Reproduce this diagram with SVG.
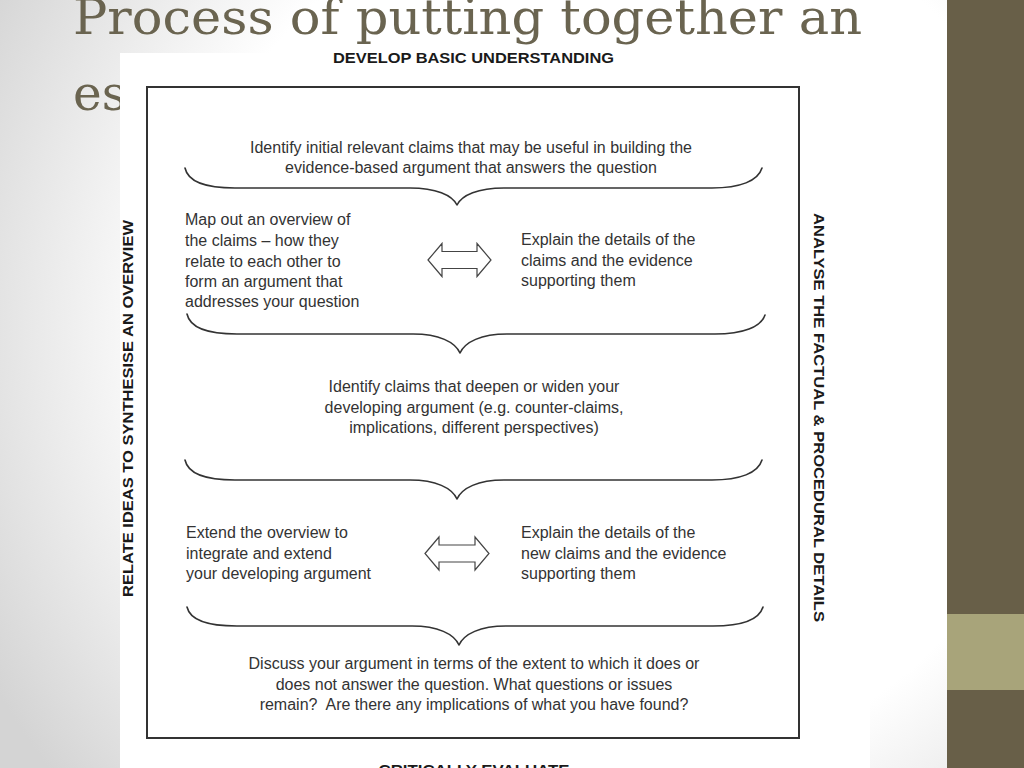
<svg xmlns="http://www.w3.org/2000/svg" width="1024" height="768" viewBox="0 0 1024 768">
  <defs>
    <radialGradient id="bg" cx="620" cy="330" r="720" gradientUnits="userSpaceOnUse">
      <stop offset="0" stop-color="#ffffff"/>
      <stop offset="0.62" stop-color="#ffffff"/>
      <stop offset="1" stop-color="#d4d4d4"/>
    </radialGradient>
    <style>
      .title { font-family: "DejaVu Serif", "Liberation Serif", serif; font-size: 49px; fill: #6a6450; }
      .body { font-family: "Liberation Sans", Arial, sans-serif; font-size: 16px; fill: #333333; }
      .head { font-family: "Liberation Sans", Arial, sans-serif; font-size: 15.5px; font-weight: bold; fill: #1a1a1a; }
      .brace { fill: none; stroke: #333333; stroke-width: 1.6; stroke-linecap: round; stroke-linejoin: round; }
      .darrow { fill: #ffffff; stroke: #444444; stroke-width: 1.2; stroke-linejoin: miter; }
    </style>
  </defs>

  <!-- slide background -->
  <rect x="0" y="0" width="1024" height="768" fill="url(#bg)"/>
  <rect x="947" y="0" width="77" height="768" fill="#685f48"/>
  <rect x="947" y="614" width="77" height="76" fill="#a8a47a"/>

  <!-- title -->
  <g id="title">
    <text class="title" x="73" y="34" textLength="789" lengthAdjust="spacingAndGlyphs">Process of putting together an</text>
    <text class="title" x="73" y="110" textLength="135" lengthAdjust="spacingAndGlyphs">essay</text>
  </g>

  <!-- diagram image area -->
  <rect x="120" y="53" width="750" height="715" fill="#ffffff"/>

  <g id="frame">
    <rect x="147" y="87" width="652" height="651" fill="#ffffff" stroke="#333333" stroke-width="2"/>
  </g>

  <g id="label-top">
    <text class="head" x="473.5" y="63" text-anchor="middle" textLength="281" lengthAdjust="spacingAndGlyphs">DEVELOP BASIC UNDERSTANDING</text>
  </g>
  <g id="label-left">
    <text class="head" transform="translate(133,408.5) rotate(-90)" x="0" y="0" text-anchor="middle" font-size="16" textLength="377" lengthAdjust="spacingAndGlyphs">RELATE IDEAS TO SYNTHESISE AN OVERVIEW</text>
  </g>
  <g id="label-right">
    <text class="head" transform="translate(813.5,417.5) rotate(90)" x="0" y="0" text-anchor="middle" font-size="16" textLength="409" lengthAdjust="spacingAndGlyphs">ANALYSE THE FACTUAL &amp; PROCEDURAL DETAILS</text>
  </g>
  <g id="label-bottom">
    <text class="head" x="474" y="775" text-anchor="middle" textLength="191" lengthAdjust="spacingAndGlyphs">CRITICALLY EVALUATE</text>
  </g>

  <g id="step1">
    <text class="body" x="471" y="153" text-anchor="middle">Identify initial relevant claims that may be useful in building the</text>
    <text class="body" x="471" y="173" text-anchor="middle">evidence-based argument that answers the question</text>
  </g>

  <g id="step2-overview">
    <text class="body" x="185" y="225">Map out an overview of</text>
    <text class="body" x="185" y="246">the claims – how they</text>
    <text class="body" x="185" y="266.5">relate to each other to</text>
    <text class="body" x="185" y="287">form an argument that</text>
    <text class="body" x="185" y="307">addresses your question</text>
  </g>

  <g id="step2-details">
    <text class="body" x="521" y="245">Explain the details of the</text>
    <text class="body" x="521" y="265.5">claims and the evidence</text>
    <text class="body" x="521" y="286">supporting them</text>
  </g>

  <g id="step3">
    <text class="body" x="474" y="392" text-anchor="middle">Identify claims that deepen or widen your</text>
    <text class="body" x="474" y="412.5" text-anchor="middle">developing argument (e.g. counter-claims,</text>
    <text class="body" x="474" y="433" text-anchor="middle">implications, different perspectives)</text>
  </g>

  <g id="step4-overview">
    <text class="body" x="186" y="538">Extend the overview to</text>
    <text class="body" x="186" y="558.5">integrate and extend</text>
    <text class="body" x="186" y="579">your developing argument</text>
  </g>

  <g id="step4-details">
    <text class="body" x="521" y="538">Explain the details of the</text>
    <text class="body" x="521" y="558.5">new claims and the evidence</text>
    <text class="body" x="521" y="579">supporting them</text>
  </g>

  <g id="step5">
    <text class="body" x="474" y="669" text-anchor="middle">Discuss your argument in terms of the extent to which it does or</text>
    <text class="body" x="474" y="689.5" text-anchor="middle">does not answer the question. What questions or issues</text>
    <text class="body" x="474" y="710" text-anchor="middle">remain?&#160; Are there any implications of what you have found?</text>
  </g>

  <g id="connectors">
    <path class="brace" d="M185,168 C188,182 205,188 235,188 L410,188 C436,188 452,195 457,205 C462,195 478,188 504,188 L712,188 C740,188 758,181 762,168"/>
    <path class="brace" d="M187,314 C190,328 207,334 237,334 L413,334 C439,334 455,342 460,353 C465,342 481,334 507,334 L715,334 C743,334 761,327 765,315"/>
    <path class="brace" d="M185,460 C188,474 205,480 235,480 L410,480 C436,480 452,488 457,499 C462,488 478,480 504,480 L712,480 C740,480 758,473 762,460"/>
    <path class="brace" d="M187,607 C190,620 207,626 237,626 L412,626 C438,626 454,634 459,645 C464,634 480,626 506,626 L713,626 C741,626 759,620 763,607"/>
    <polygon class="darrow" points="428,260 442,243.5 442,251.5 477,251.5 477,243.5 491,260 477,276.5 477,268.5 442,268.5 442,276.5"/>
    <polygon class="darrow" points="425,553.5 439,537 439,545 475,545 475,537 489,553.5 475,570 475,562 439,562 439,570"/>
  </g>
</svg>
